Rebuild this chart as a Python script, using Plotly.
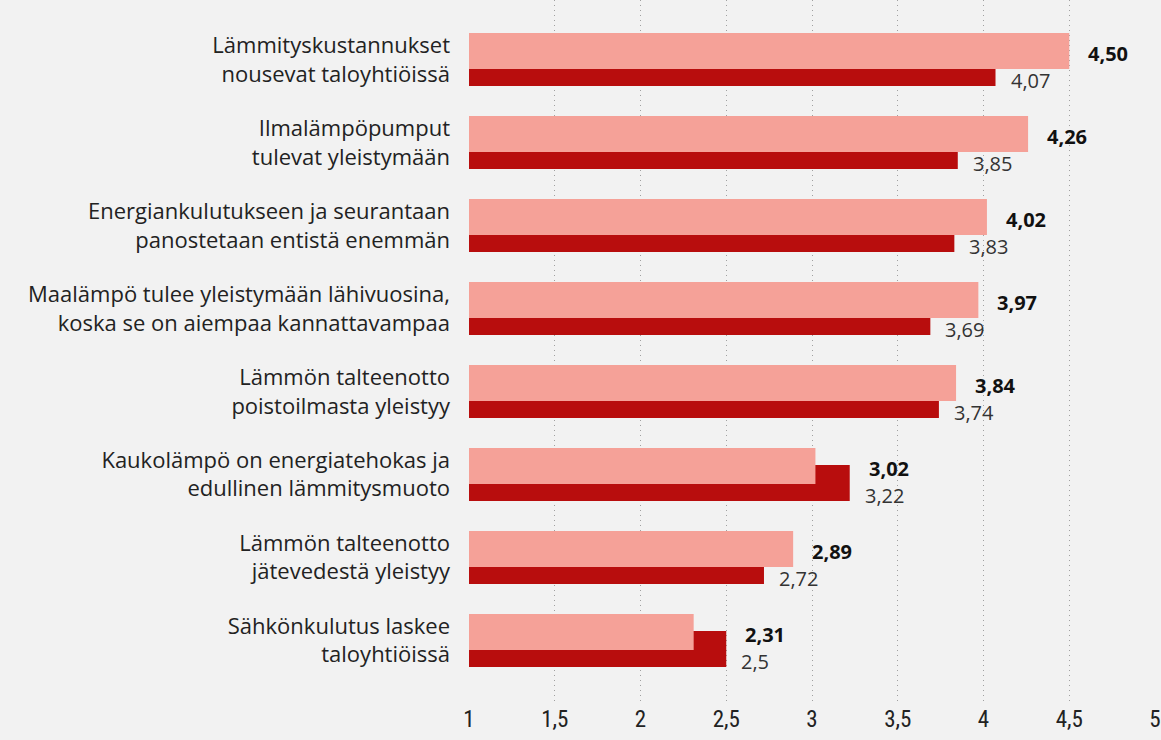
import plotly.graph_objects as go

# väittämät ylhäältä alas
categories = [
    "Lämmityskustannukset<br>nousevat taloyhtiöissä",
    "Ilmalämpöpumput<br>tulevat yleistymään",
    "Energiankulutukseen ja seurantaan<br>panostetaan entistä enemmän",
    "Maalämpö tulee yleistymään lähivuosina,<br>koska se on aiempaa kannattavampaa",
    "Lämmön talteenotto<br>poistoilmasta yleistyy",
    "Kaukolämpö on energiatehokas ja<br>edullinen lämmitysmuoto",
    "Lämmön talteenotto<br>jätevedestä yleistyy",
    "Sähkönkulutus laskee<br>taloyhtiöissä",
]
light_values = [4.50, 4.26, 4.02, 3.97, 3.84, 3.02, 2.89, 2.31]
dark_values = [4.07, 3.85, 3.83, 3.69, 3.74, 3.22, 2.72, 2.5]
x_ticks = [1, 1.5, 2, 2.5, 3, 3.5, 4, 4.5, 5]

LIGHT = "#f5a198"
DARK = "#b80d0d"
FONT = "Open Sans"
TICK_FONT = "Liberation Sans Narrow, Roboto Condensed, Roboto"

pos = list(range(len(categories)))
base = 1

fig = go.Figure()
# tumma palkki ensin, vaalea piirretään päälle
fig.add_trace(go.Bar(
    y=pos, x=[v - base for v in dark_values], base=base, orientation="h",
    width=0.434, offset=-0.114, marker=dict(color=DARK, line=dict(width=0)),
    hoverinfo="skip", showlegend=False))
fig.add_trace(go.Bar(
    y=pos, x=[v - base for v in light_values], base=base, orientation="h",
    width=0.434, offset=-0.319, marker=dict(color=LIGHT, line=dict(width=0)),
    hoverinfo="skip", showlegend=False))

annotations = []
for p, lv, dv in zip(pos, light_values, dark_values):
    annotations.append(dict(
        x=max(lv, dv), y=p - 0.07, xref="x", yref="y", xanchor="left", yanchor="middle",
        xshift=17, text="<b>" + f"{lv:.2f}".replace(".", ",") + "</b>", showarrow=False,
        font=dict(family=FONT, size=20, color="#111111")))
    annotations.append(dict(
        x=dv, y=p + 0.25, xref="x", yref="y", xanchor="left", yanchor="middle",
        xshift=13, text=str(dv).replace(".", ","), showarrow=False,
        font=dict(family=FONT, size=20, color="#333333")))

fig.update_layout(
    width=1161, height=740,
    barmode="overlay",
    separators=", ",
    paper_bgcolor="#f2f2f2", plot_bgcolor="#f2f2f2",
    margin=dict(l=469, r=6, t=0, b=37),
    font=dict(family=FONT, size=22, color="#222222"),
    annotations=annotations,
    xaxis=dict(range=[1, 5], tickvals=x_ticks, showgrid=True, gridcolor="#a0a0a0",
               griddash="1px,4px", gridwidth=1, zeroline=False, showline=False,
               tickfont=dict(family=TICK_FONT, size=23, color="#222222"), automargin=False),
    yaxis=dict(range=[7.753, -0.717], tickvals=pos, ticktext=categories,
               showgrid=False, zeroline=False, showline=False, ticklabelstandoff=18,
               tickfont=dict(family=FONT, size=22, color="#222222"), automargin=False),
)

fig.write_html("out.html", config={"displayModeBar": False},
               post_script="document.body.style.margin='0';")
